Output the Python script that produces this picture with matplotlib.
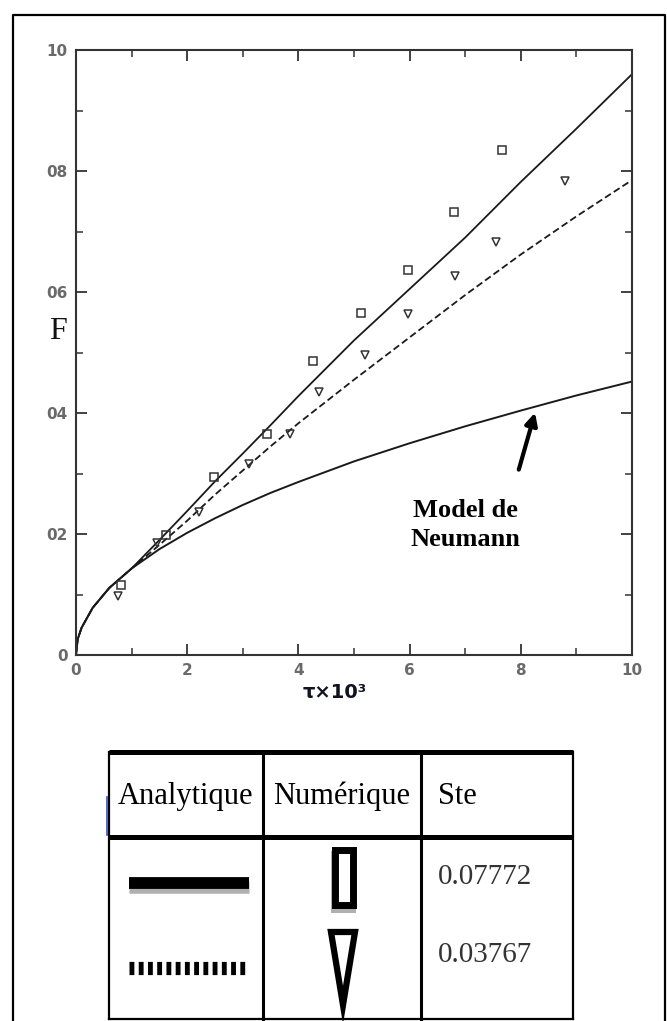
import matplotlib
matplotlib.use("Agg")
import matplotlib.pyplot as plt
from matplotlib.patches import Polygon, Rectangle

# numerical results (squares: Ste = 0.07772, triangles: Ste = 0.03767)
tau_sq = [0.81, 1.62, 2.49, 3.44, 4.27, 5.12, 5.97, 6.80, 7.66]
F_sq = [0.116, 0.199, 0.295, 0.366, 0.486, 0.566, 0.636, 0.733, 0.835]
tau_tri = [0.75, 1.45, 2.22, 3.12, 3.84, 4.37, 5.19, 5.98, 6.82, 7.56, 8.79]
F_tri = [0.098, 0.185, 0.236, 0.316, 0.366, 0.435, 0.496, 0.564, 0.626, 0.682, 0.784]

# analytical curves
tau_line = [0, 0.03, 0.1, 0.3, 0.6, 1.0, 1.5, 2.0, 2.5, 3.0, 3.5, 4.0, 5.0, 6.0, 7.0, 8.0, 9.0, 10.0]
F_solid = [0, 0.026, 0.045, 0.078, 0.111, 0.143, 0.190, 0.238, 0.287, 0.333, 0.380, 0.428,
           0.520, 0.605, 0.690, 0.782, 0.870, 0.960]
F_dashed = [0, 0.026, 0.045, 0.078, 0.111, 0.143, 0.182, 0.222, 0.265, 0.305, 0.345, 0.383,
            0.455, 0.525, 0.595, 0.662, 0.725, 0.785]
F_neumann = [0, 0.026, 0.045, 0.078, 0.111, 0.143, 0.175, 0.202, 0.226, 0.248, 0.268, 0.286,
             0.320, 0.350, 0.378, 0.404, 0.429, 0.452]

xticks = [0, 2, 4, 6, 8, 10]
xticklabels = ["0", "2", "4", "6", "8", "10"]
yticks = [0, 0.2, 0.4, 0.6, 0.8, 1.0]
yticklabels = ["0", "02", "04", "06", "08", "10"]

headers = ["Analytique", "Numérique", "Ste"]
ste_values = ["0.07772", "0.03767"]

plt.rcParams["lines.scale_dashes"] = False

W, H = 667, 1021
fig = plt.figure(figsize=(W / 100, H / 100), dpi=100)
fig.patch.set_facecolor("white")

# main plot
ax = fig.add_axes([76 / W, 1 - 655 / H, 556 / W, 605 / H])
ax.plot(tau_line, F_solid, color="#1a1a1a", lw=1.3)
ax.plot(tau_line, F_dashed, color="#1a1a1a", lw=1.3, dashes=[5, 2.5])
ax.plot(tau_line, F_neumann, color="#1a1a1a", lw=1.4)
ax.plot(tau_sq, F_sq, "s", ms=6, mfc="none", mec="#333333", mew=1.1)
ax.plot(tau_tri, F_tri, "v", ms=6, mfc="none", mec="#333333", mew=1.1)

ax.set_xlim(0, 10)
ax.set_ylim(0, 1)
ax.set_xticks(xticks)
ax.set_xticklabels(xticklabels)
ax.set_xticks(range(0, 11), minor=True)
ax.set_yticks(yticks)
ax.set_yticklabels(yticklabels)
ax.set_yticks([i / 10 for i in range(11)], minor=True)
ax.tick_params(which="both", direction="in", top=True, right=True, color="#333333")
ax.tick_params(which="major", length=8, width=1.3, labelsize=11, labelcolor="#6a6a6a", pad=6)
ax.tick_params(which="minor", length=5, width=1.1)
for lab in ax.get_xticklabels() + ax.get_yticklabels():
    lab.set_fontweight("bold")
for sp in ax.spines.values():
    sp.set_color("#333333")
    sp.set_linewidth(1.5)

ax.set_ylabel("F", rotation=0, fontsize=23, family="Liberation Serif", color="#111111")
ax.yaxis.set_label_coords(-0.032, 0.51)
ax.set_xlabel("τ×10³", fontsize=14, fontweight="bold", color="#111122")
ax.xaxis.set_label_coords(0.466, -0.046)

ax.text(7.0, 0.215, "Model de\nNeumann", ha="center", va="center", fontsize=19,
        fontweight="bold", family="Liberation Serif", linespacing=1.3)
ax.annotate("", xy=(8.27, 0.405), xytext=(7.95, 0.302),
            arrowprops=dict(arrowstyle="-|>", lw=3.0, color="black", mutation_scale=18))

# pixel overlay for border and the legend table
pix = fig.add_axes([0, 0, 1, 1])
pix.set_axis_off()
pix.set_xlim(0, W)
pix.set_ylim(H, 0)

pix.plot([13, 13, 665, 665], [H, 15, 15, H], color="black", lw=1.6)

x0, x1, x2, x3 = 109, 263, 421, 573
ytop, yhead, ybot = 752, 837, 1019
pix.plot([x0, x3], [ytop, ytop], color="black", lw=3.6, solid_capstyle="butt")
pix.plot([x0, x3], [yhead, yhead], color="black", lw=3.6, solid_capstyle="butt")
pix.plot([x0, x3], [ybot, ybot], color="black", lw=1.6)
for xv, lw in [(x0, 1.6), (x1, 2.2), (x2, 2.2), (x3, 1.6)]:
    pix.plot([xv, xv], [ytop, ybot], color="black", lw=lw)
pix.plot([107, 107], [797, 835], color="#3050c0", lw=1.2)

header_x = [(x0 + x1) / 2, (x1 + x2) / 2, 438]
header_ha = ["center", "center", "left"]
for txt, hx, ha in zip(headers, header_x, header_ha):
    pix.text(hx, 796, txt, ha=ha, va="center", fontsize=22, family="Liberation Serif",
             color="black")

row_y = [877, 955]
for txt, yv in zip(ste_values, row_y):
    pix.text(438, yv, txt, ha="left", va="center", fontsize=21, family="Liberation Serif",
             color="#333333")

# legend samples
pix.plot([129, 249], [887, 887], color="#b0b0b0", lw=9, solid_capstyle="butt")
pix.plot([129, 249], [883, 883], color="black", lw=8.5, solid_capstyle="butt")
pix.plot([129, 249], [968, 968], color="black", lw=9.5, dashes=[3.5, 3.15],
         dash_capstyle="butt")
pix.add_patch(Rectangle((331, 851), 25, 62, facecolor="#b0b0b0", edgecolor="none"))
pix.add_patch(Rectangle((334.5, 849.5), 18, 55, facecolor="white", edgecolor="black", lw=5))
pix.add_patch(Polygon([(331, 932), (355, 932), (343, 1005)], closed=True,
                      facecolor="white", edgecolor="black", lw=4.5, joinstyle="miter"))

fig.savefig("out.png", dpi=100, facecolor="white")
